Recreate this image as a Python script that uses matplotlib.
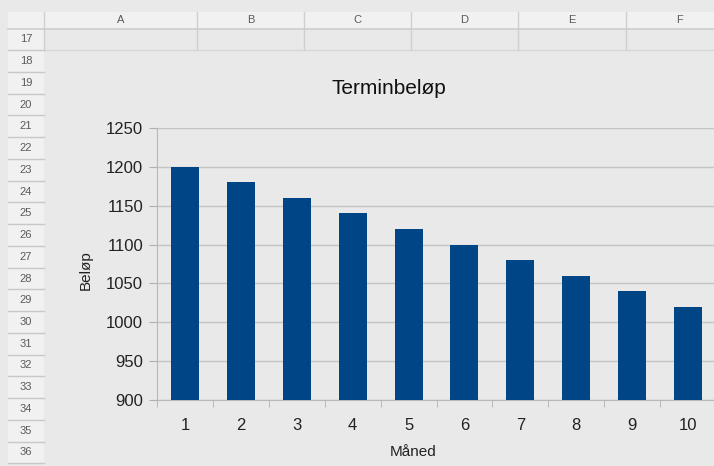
import matplotlib.pyplot as plt
from matplotlib.patches import Rectangle
from matplotlib.lines import Line2D

# ── Data ──────────────────────────────────────────────────────────────────────
months = [1, 2, 3, 4, 5, 6, 7, 8, 9, 10]
amounts = [1200, 1180, 1160, 1140, 1120, 1100, 1080, 1060, 1040, 1020]
y_ticks = [900, 950, 1000, 1050, 1100, 1150, 1200, 1250]

col_letters = ["A", "B", "C", "D", "E", "F"]
row_numbers = list(range(17, 37))

# ── Appearance ────────────────────────────────────────────────────────────────
BG = "#e9e9e9"
HEADER_BG = "#f1f1f1"
BAR = "#004586"
GRID = "#c4c4c4"
W, H = 714, 466

plt.rcParams["font.family"] = ["Liberation Sans", "DejaVu Sans"]

fig = plt.figure(figsize=(W / 100, H / 100), dpi=100, facecolor=BG)


def px(x, y):
    return x / W, 1 - y / H


# spreadsheet chrome (column + row headers)
col_edges = [44, 197, 304, 411, 518, 626, 733]
fig.patches.append(Rectangle(px(8, 28.5), (W - 8) / W, 16.5 / H,
                             transform=fig.transFigure, facecolor=HEADER_BG,
                             edgecolor="none", zorder=0))
for i, letter in enumerate(col_letters):
    cx = (col_edges[i] + col_edges[i + 1]) / 2
    fig.text(*px(cx, 20), letter, ha="center", va="center", fontsize=8,
             color="#5a5a5a")
for x in col_edges[:-1]:
    fig.add_artist(Line2D([x / W, x / W], [1 - 12 / H, 1 - 50 / H],
                          color="#cfcfcf", lw=1, transform=fig.transFigure))
fig.add_artist(Line2D([8 / W, 1], [1 - 28.5 / H] * 2, color="#cdcdcd", lw=1.2,
                      transform=fig.transFigure))
fig.add_artist(Line2D([44 / W, 1], [1 - 50 / H] * 2, color="#d6d6d6", lw=1,
                      transform=fig.transFigure))

row_h = 21.74
for k, r in enumerate(row_numbers):
    top = 28.5 + k * row_h
    fig.patches.append(Rectangle(px(8, top + row_h), 36 / W, row_h / H,
                                 transform=fig.transFigure, facecolor=HEADER_BG,
                                 edgecolor="none", zorder=0))
    fig.add_artist(Line2D([8 / W, 44 / W], [1 - (top + row_h) / H] * 2,
                          color="#c8c8c8", lw=1, transform=fig.transFigure))
    fig.text(*px(26, top + row_h / 2), str(r), ha="center", va="center",
             fontsize=8, color="#5a5a5a")

# ── Chart ─────────────────────────────────────────────────────────────────────
ax = fig.add_axes([157 / W, 1 - 400 / H, 559 / W, 272 / H])
ax.set_facecolor(BG)
ax.bar(months, amounts, width=0.5, color=BAR, zorder=3)

ax.set_xlim(0.5, 10.5)
ax.set_ylim(900, 1250)
ax.set_yticks(y_ticks)
ax.set_xticks(months)
ax.set_xticks([m + 0.5 for m in [0] + months], minor=True)
ax.tick_params(axis="x", which="major", length=0, pad=13, labelsize=12,
               labelcolor="#222222")
ax.tick_params(axis="x", which="minor", length=5, color="#b0b0b0")
ax.tick_params(axis="y", length=6, color="#b0b0b0", pad=4, labelsize=12,
               labelcolor="#222222")
ax.grid(axis="y", color=GRID, lw=1, zorder=0)

for side in ["top", "right"]:
    ax.spines[side].set_visible(False)
for side in ["left", "bottom"]:
    ax.spines[side].set_color("#b8b8b8")

fig.text(*px(389, 89), "Terminbeløp", ha="center", va="center", fontsize=15,
         color="#111111")
fig.text(*px(86, 270), "Beløp", ha="center", va="center", rotation=90,
         fontsize=11, color="#222222")
fig.text(*px(413, 452), "Måned", ha="center", va="center", fontsize=11,
         color="#222222")

fig.savefig("out.png", dpi=100, facecolor=BG)
